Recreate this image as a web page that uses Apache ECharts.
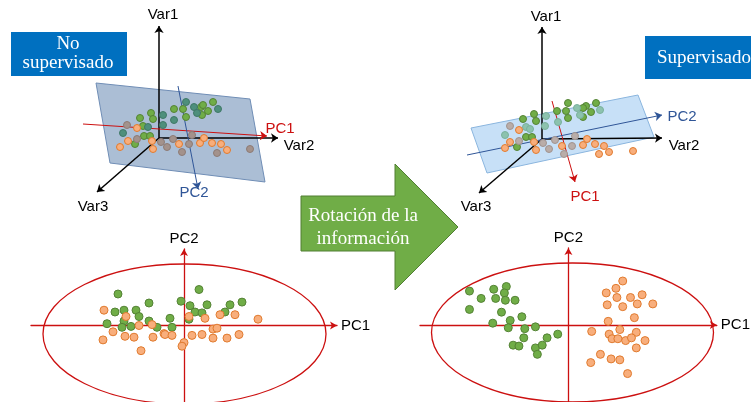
<!DOCTYPE html>
<html>
<head>
<meta charset="utf-8">
<script src="https://cdn.jsdelivr.net/npm/echarts@6/dist/echarts.min.js"></script>
<style>
html, body { margin: 0; padding: 0; background: #fff; }
#chart { width: 751px; height: 402px; }
</style>
</head>
<body>
<div id="chart"></div>
<script>
// projected 3D views: [x, y] in the panel plane, origin = where Var1/Var2/Var3 meet
const topGreenA = [[5.4, 3.6], [4.2, 3.1], [4.4, 3.3], [4.9, 2.7], [1.5, 2.9], [2.4, 2.9], [-0.8, 2.5], [-0.6, 1.9], [-1.9, 2.0], [2.7, 2.1], [4.3, 2.3], [-1.6, 1.2], [-1.5, 0.2], [-0.9, 0.2], [-2.4, -0.6]]
const topTealA = [[2.7, 3.6], [3.5, 3.1], [5.9, 2.9], [0.4, 2.3], [1.5, 1.8], [0.4, 1.3], [-1.1, 1.1], [-3.6, 0.5], [3.8, 2.5]]
const topGreyA = [[-3.2, 1.3], [-2.2, -0.1], [0.2, -0.4], [1.4, -0.1], [3.3, 0.3], [0.8, -0.9], [2.3, -1.4], [3.0, -0.6], [5.8, -1.5], [9.1, -1.1]]
const topOrangeA = [[-2.2, 1.0], [-3.1, -0.3], [-3.9, -0.9], [-0.6, -1.1], [-0.7, -0.3], [2.0, -0.6], [4.1, -0.5], [4.5, 0.0], [5.3, -0.5], [6.2, -0.6], [6.8, -1.2]]

const topGreenB = [[2.6, 3.6], [5.4, 3.6], [4.4, 3.3], [1.5, 2.8], [2.4, 2.8], [4.1, 3.1], [4.9, 2.7], [2.6, 2.1], [4.1, 2.2], [-1.9, 2.0], [-0.8, 2.5], [-0.6, 1.8], [-1.6, 0.2], [-1.0, 0.2], [-2.5, -0.8]]
const topTealB = [[3.5, 3.1], [5.8, 2.9], [3.8, 2.4], [0.4, 2.3], [1.6, 1.7], [-1.6, 1.2], [-1.2, 1.0], [0.3, 1.3], [-3.7, 0.4]]
const topGreyB = [[-3.2, 1.3], [-2.3, -0.2], [0.1, -0.4], [1.3, -0.1], [3.3, 0.3], [3.0, -0.7], [0.7, -1.0], [2.2, -1.5]]
const topOrangeB = [[-2.3, 0.9], [-3.2, -0.3], [-3.7, -0.9], [-0.8, -0.3], [-0.6, -1.1], [2.0, -0.7], [4.1, -0.6], [4.5, 0.0], [5.3, -0.5], [6.2, -0.7], [6.7, -1.3], [5.7, -1.5], [9.1, -1.2]]

// axes of the 3D views (end points) and the planes
const var1A = [0, 11.2], var2A = [11.9, 0], var3A = [-6.2, -5.4]
const pc1A = [[-7.6, 1.4], [10.8, 0.2]], pc2A = [[1.9, 5.2], [3.9, -5.1]]
const planeA = [[-6.3, 5.5], [9.1, 3.9], [10.6, -4.4], [-4.9, -2.5]]
const var1B = [0, 11.2], var2B = [12.0, 0.1], var3B = [-6.3, -5.4]
const pc1B = [[1.0, 3.8], [3.3, -4.3]], pc2B = [[-7.5, -1.6], [12.0, 2.4]]
const planeB = [[-7.1, 1.1], [9.6, 4.4], [11.2, 0.2], [-5.5, -3.4]]

// PC1 / PC2 scores
const pcGreenA = [[-6.6, 3.5], [1.5, 4.0], [-3.5, 2.5], [-0.3, 2.7], [0.6, 2.2], [2.3, 2.3], [4.6, 2.3], [5.8, 2.6], [-6.9, 1.5], [-6.0, 1.7], [-4.8, 1.7], [-4.5, 1.0], [4.1, 1.5], [1.1, 1.5], [1.8, 1.4], [-1.4, 0.8], [0.5, 0.7], [-6.0, 0.5], [-7.7, 0.2], [-3.5, 0.5], [-6.2, -0.2], [-5.3, -0.1], [-2.7, -0.2], [-1.2, -0.2]]
const pcOrangeA = [[-8.0, 1.7], [-5.8, 1.0], [2.1, 0.8], [0.5, 1.0], [3.6, 1.2], [5.1, 1.2], [7.4, 0.7], [-4.5, 0.0], [-3.2, 0.1], [-7.1, -0.7], [-5.9, -1.2], [-5.0, -1.3], [-3.1, -1.3], [-2.0, -0.9], [-1.9, -1.0], [-1.2, -1.1], [0.8, -1.1], [1.8, -1.0], [2.9, -0.4], [3.3, -0.3], [2.9, -1.4], [4.3, -1.4], [5.5, -1.0], [-8.1, -1.6], [0.0, -1.9], [-0.2, -2.3], [-4.3, -2.8]]
const pcGreenB = [[-10.2, 3.7], [-7.7, 3.9], [-6.4, 4.2], [-6.6, 3.5], [-9.0, 2.9], [-7.5, 2.9], [-6.5, 2.7], [-5.5, 2.7], [-10.2, 1.7], [-6.9, 1.4], [-4.8, 0.9], [-6.0, 0.5], [-7.8, 0.2], [-6.2, -0.3], [-4.5, -0.4], [-3.4, -0.2], [-1.1, -1.0], [-2.2, -1.4], [-4.6, -1.4], [-5.7, -2.2], [-5.1, -2.3], [-3.4, -2.5], [-2.7, -2.2], [-3.2, -3.2]]
const pcOrangeB = [[5.6, 4.8], [4.9, 4.0], [3.9, 3.5], [5.0, 3.0], [6.4, 3.0], [7.6, 3.3], [4.0, 2.2], [5.6, 2.0], [7.1, 2.3], [8.7, 2.3], [6.8, 0.8], [4.1, 0.4], [2.4, -0.7], [5.3, -0.5], [7.0, -0.8], [4.2, -1.0], [4.5, -1.5], [5.1, -1.5], [5.9, -1.7], [6.5, -1.4], [7.9, -1.7], [7.0, -2.5], [3.3, -3.2], [4.4, -3.7], [5.3, -3.8], [2.3, -4.1], [6.1, -5.3]]

const GREEN = '#70AD47', GREEN_B = '#548235'
const ORANGE = '#F8AE7C', ORANGE_B = '#E07A2E'
const RED = '#CC1010', BLUE = '#2F5597'
const LABEL_FONT = '"Liberation Sans", Arial, sans-serif'
const SERIF = '"Liberation Serif", "DejaVu Serif", serif'

const chart = echarts.init(document.getElementById('chart'))

function hiddenAxis (gi, min, max) {
    return {type: 'value', gridIndex: gi, min: min, max: max, show: false}
}

function pcAxis (gi, min, max, name, isY) {
    return {
        type: 'value',
        gridIndex: gi,
        min: min,
        max: max,
        name: name,
        nameLocation: 'end',
        nameGap: isY ? 3 : 4,
        nameTextStyle: {color: '#000', fontSize: 15, fontFamily: LABEL_FONT},
        axisLine: {
            onZero: true,
            symbol: ['none', 'arrow'],
            symbolSize: [6, 7],
            lineStyle: {color: RED, width: 1.3}
        },
        axisTick: {show: false},
        axisLabel: {show: false},
        splitLine: {show: false}
    }
}

function dots (data, gi, color, border, size) {
    return {
        type: 'scatter',
        xAxisIndex: gi,
        yAxisIndex: gi,
        data: data,
        symbolSize: size,
        silent: true,
        z: 5,
        itemStyle: {color: color, borderColor: border, borderWidth: 1, opacity: 1}
    }
}

function arrowLine (gi, from, to, color, width, z) {
    return {
        type: 'lines',
        coordinateSystem: 'cartesian2d',
        xAxisIndex: gi,
        yAxisIndex: gi,
        silent: true,
        z: z,
        symbol: ['none', 'arrow'],
        symbolSize: 7,
        lineStyle: {color: color, width: width, opacity: 1, curveness: 0},
        data: [{coords: [from, to]}]
    }
}

function plane (gi, corners, fill, stroke) {
    return {
        type: 'custom',
        xAxisIndex: gi,
        yAxisIndex: gi,
        silent: true,
        z: 1,
        data: [[0, 0]],
        renderItem: function (params, api) {
            return {
                type: 'polygon',
                shape: {points: corners.map(p => api.coord(p))},
                style: {fill: fill, stroke: stroke, lineWidth: 1}
            }
        }
    }
}

function label (text, x, y, color, align) {
    return {
        type: 'text',
        x: x,
        y: y,
        z: 20,
        style: {text: text, fill: color, font: '15px ' + LABEL_FONT, textAlign: align || 'center', textVerticalAlign: 'middle'}
    }
}

function serifText (text, x, y, align) {
    return {
        type: 'text',
        x: x,
        y: y,
        z: 11,
        style: {text: text, fill: '#fff', font: '19px ' + SERIF, textAlign: align || 'center', textVerticalAlign: 'middle'}
    }
}

const option = {
    animation: false,
    grid: [
        {left: 9, top: 18, width: 300, height: 240},
        {left: 392, top: 19, width: 300, height: 240},
        {left: 31, top: 249, width: 306, height: 170},
        {left: 420, top: 248, width: 306, height: 168}
    ],
    xAxis: [
        hiddenAxis(0, -15, 15),
        hiddenAxis(1, -15, 15),
        pcAxis(2, -15.3, 15.3, 'PC1', false),
        pcAxis(3, -15.3, 15.3, 'PC1', false)
    ],
    yAxis: [
        hiddenAxis(0, -12, 12),
        hiddenAxis(1, -12, 12),
        pcAxis(2, -8.5, 8.5, 'PC2', true),
        pcAxis(3, -8.4, 8.4, 'PC2', true)
    ],
    graphic: [
        // boxes
        {type: 'rect', z: 10, shape: {x: 11, y: 32, width: 116, height: 44}, style: {fill: '#0070C0'}},
        serifText('No', 68, 44),
        serifText('supervisado', 68, 63),
        {type: 'rect', z: 10, shape: {x: 645, y: 36, width: 120, height: 43}, style: {fill: '#0070C0'}},
        serifText('Supervisado', 657, 58, 'left'),
        // big arrow
        {
            type: 'polygon',
            z: 10,
            shape: {points: [[301, 196], [395, 196], [395, 164], [458, 227], [395, 290], [395, 251], [301, 251]]},
            style: {fill: GREEN, stroke: '#507E32', lineWidth: 1}
        },
        serifText('Rotación de la', 363, 216),
        serifText('información', 363, 239),
        // ellipses
        {type: 'ellipse', z: 1, shape: {cx: 184.5, cy: 334, rx: 141.5, ry: 70}, style: {fill: 'none', stroke: RED, lineWidth: 1.3}},
        {type: 'ellipse', z: 1, shape: {cx: 572.5, cy: 332.5, rx: 141, ry: 69.5}, style: {fill: 'none', stroke: RED, lineWidth: 1.3}},
        // axis labels
        label('Var1', 163, 15, '#000'),
        label('Var2', 299, 146, '#000'),
        label('Var3', 93, 207, '#000'),
        label('PC1', 280, 129, RED),
        label('PC2', 194, 193, BLUE),
        label('Var1', 546, 17, '#000'),
        label('Var2', 684, 146, '#000'),
        label('Var3', 476, 207, '#000'),
        label('PC2', 682, 117, BLUE),
        label('PC1', 585, 197, RED)
    ],
    series: [
        plane(0, planeA, 'rgba(120,150,188,0.62)', '#6F8DB5'),
        plane(1, planeB, 'rgba(180,214,244,0.75)', '#8AB5DE'),
        arrowLine(0, [0, 0], var1A, '#000', 1.5, 3),
        arrowLine(0, [0, 0], var2A, '#000', 1.5, 3),
        arrowLine(0, [0, 0], var3A, '#000', 1.5, 3),
        arrowLine(0, pc1A[0], pc1A[1], RED, 1, 3),
        arrowLine(0, pc2A[0], pc2A[1], BLUE, 1, 3),
        arrowLine(1, [0, 0], var1B, '#000', 1.5, 3),
        arrowLine(1, [0, 0], var2B, '#000', 1.5, 3),
        arrowLine(1, [0, 0], var3B, '#000', 1.5, 3),
        arrowLine(1, pc1B[0], pc1B[1], RED, 1, 3),
        arrowLine(1, pc2B[0], pc2B[1], BLUE, 1, 3),
        dots(topGreenA, 0, GREEN, GREEN_B, 7),
        dots(topTealA, 0, '#4E8F7C', '#3F7766', 7),
        dots(topGreyA, 0, '#A3928C', '#8C7A74', 7),
        dots(topOrangeA, 0, ORANGE, ORANGE_B, 7),
        dots(topGreenB, 1, GREEN, GREEN_B, 7),
        dots(topTealB, 1, '#8CC2AE', '#79B09C', 7),
        dots(topGreyB, 1, '#B9ADA9', '#A0938F', 7),
        dots(topOrangeB, 1, ORANGE, ORANGE_B, 7),
        dots(pcGreenA, 2, GREEN, GREEN_B, 8),
        dots(pcOrangeA, 2, ORANGE, ORANGE_B, 8),
        dots(pcGreenB, 3, GREEN, GREEN_B, 8),
        dots(pcOrangeB, 3, ORANGE, ORANGE_B, 8)
    ]
}

chart.setOption(option)
</script>
</body>
</html>
